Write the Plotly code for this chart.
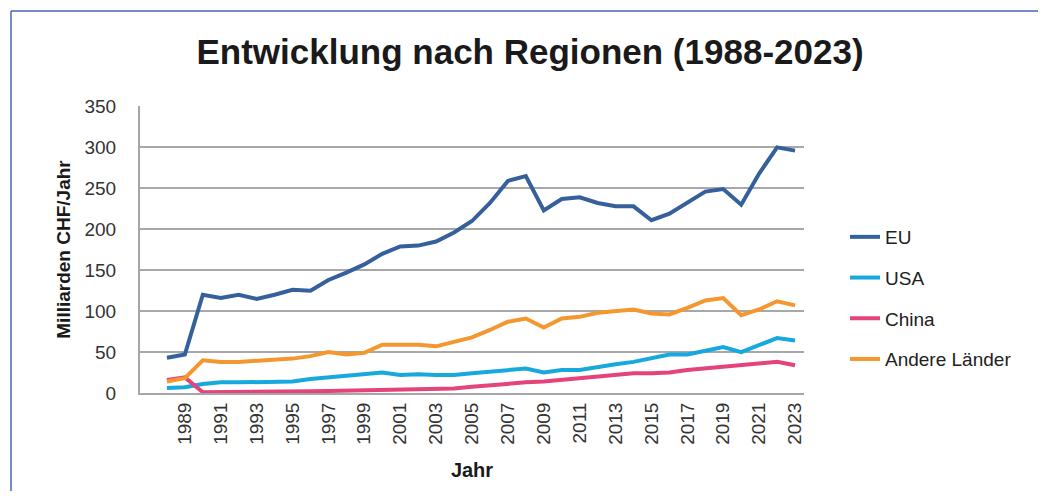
import plotly.graph_objects as go

years = list(range(1988, 2024))

eu = [43, 47, 120, 116, 120, 115, 120, 126, 125, 138, 147, 157, 170, 179, 180, 185, 196, 210,
      232, 259, 265, 223, 237, 239, 232, 228, 228, 211, 219, 232, 246, 249, 230, 268, 300, 296]
usa = [6, 7, 11, 13, 13, 13, 14, 14, 17, 19, 20, 22, 25, 22, 23, 22, 22, 24,
       26, 28, 30, 25, 28, 28, 32, 35, 38, 42, 47, 47, 52, 56, 50, 59, 67, 64]
china = [16, 19, 1, 1, 1, 1.5, 2, 2, 2, 2.5, 3, 3, 3.5, 4, 4, 4.5, 5.5, 7.5,
         9.5, 12, 13, 14, 16, 18, 20, 22, 24, 24, 25, 28, 30, 32, 34, 36, 38, 34]
andere = [14, 18, 40, 38, 38, 39, 41, 42, 45, 50, 47, 49, 59, 59, 59, 57, 63, 68,
          77, 87, 91, 80, 91, 93, 98, 100, 102, 97, 96, 104, 113, 116, 95, 102, 112, 107]

series_names = ["EU", "USA", "China", "Andere Länder"]
series_values = [eu, usa, china, andere]
series_colors = ["#35609c", "#17a9de", "#e4447b", "#f5972f"]

tick_years = list(range(1989, 2024, 2))
y_ticks = list(range(0, 351, 50))

FONT = "Liberation Sans, Arial, sans-serif"

fig = go.Figure()
for i, (name, vals, col) in enumerate(zip(series_names, series_values, series_colors)):
    fig.add_trace(go.Scatter(
        x=years, y=vals, name=name, mode="lines",
        line=dict(color=col, width=4),
        legendgroup=f"g{i}",
    ))

# page body has an 8px margin; work in figure pixel coordinates
OFF = 8
W, H = 1046 - 2 * OFF, 499 - 2 * OFF
L, R, T, B = 140 - OFF, 804 - OFF, 106 - OFF, 393 - OFF
fig.update_layout(
    width=W, height=H,
    margin=dict(l=L, r=W - R, t=T, b=H - B, autoexpand=False),
    paper_bgcolor="#ffffff",
    plot_bgcolor="#ffffff",
    font=dict(family=FONT, color="#333333"),
    title=dict(
        text="<b>Entwicklung nach Regionen (1988-2023)</b>",
        font=dict(family=FONT, size=35, color="#1a1a1a"),
        x=(530 - OFF) / W, xanchor="center", xref="container",
        y=1 - (52 - OFF) / H, yanchor="middle", yref="container",
    ),
    showlegend=True,
    legend=dict(
        x=(845 - OFF - L) / (R - L), xanchor="left",
        y=(B - (218 - OFF)) / (B - T), yanchor="top",
        font=dict(family=FONT, size=19, color="#222222"),
        tracegroupgap=13,
        bgcolor="rgba(0,0,0,0)",
        borderwidth=0,
    ),
    xaxis=dict(
        range=[1986.5, 2023.5],
        tickmode="array", tickvals=tick_years, ticktext=[str(y) for y in tick_years],
        tickangle=-90,
        tickfont=dict(family=FONT, size=19, color="#333333"),
        showgrid=False, zeroline=False,
        showline=True, linecolor="#a6a6a6", linewidth=2,
        ticks="", ticklabelstandoff=0,
        title=dict(text="<b>Jahr</b>", font=dict(family=FONT, size=20, color="#1a1a1a"), standoff=19),
    ),
    yaxis=dict(
        range=[0, 350.5],
        tickmode="array", tickvals=y_ticks,
        tickfont=dict(family=FONT, size=19, color="#333333"),
        showgrid=True, gridcolor="#a8a8a8", gridwidth=2,
        zeroline=False,
        showline=True, linecolor="#a6a6a6", linewidth=2,
        ticks="", ticklabelstandoff=18,
        title=dict(text="<b>Milliarden CHF/Jahr</b>", font=dict(family=FONT, size=19, color="#1a1a1a"), standoff=9),
    ),
)

# blue frame (top and left edges of the page border)
px = lambda x: (x - OFF - L) / (R - L)
py = lambda y: (B - (y - OFF)) / (B - T)
fig.add_shape(type="line", xref="paper", yref="paper", x0=px(11), x1=px(1046), y0=py(11), y1=py(11),
              line=dict(color="#4a64b8", width=1.5))
fig.add_shape(type="line", xref="paper", yref="paper", x0=px(11), x1=px(11), y0=py(11), y1=py(499),
              line=dict(color="#4a64b8", width=1.5))

fig.write_html("out.html")
